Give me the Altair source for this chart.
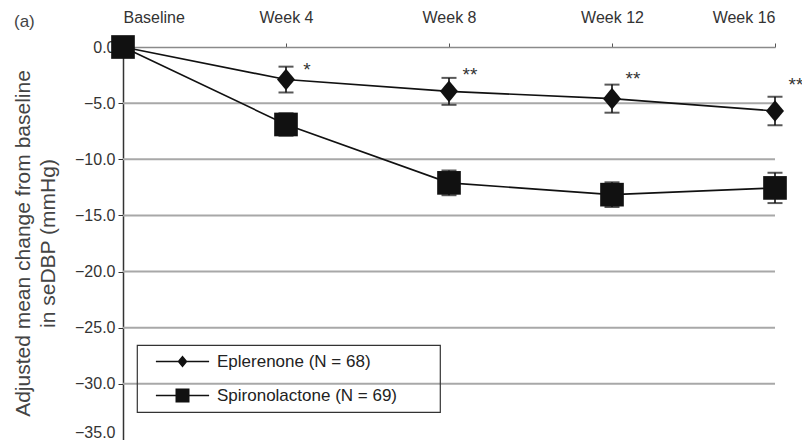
import altair as alt
import pandas as pd

# ---- data ----
weeks = [0, 4, 8, 12, 16]
week_labels = ["Baseline", "Week 4", "Week 8", "Week 12", "Week 16"]
series_names = ["Eplerenone (N = 68)", "Spironolactone (N = 69)"]
eplerenone_mean = [0.0, -2.9, -3.95, -4.6, -5.7]
eplerenone_err = [0.0, 1.15, 1.2, 1.25, 1.27]
spiro_mean = [0.0, -6.9, -12.1, -13.15, -12.55]
spiro_err = [0.0, 1.0, 1.1, 1.1, 1.35]
star_weeks = [4, 8, 12, 16]
star_text = ["*", "**", "**", "**"]
star_y = [-1.75, -2.2, -2.6, -3.1]
grid_vals = [-5, -10, -15, -20, -25, -30]
y_ticks = [0, -5, -10, -15, -20, -25, -30, -35]

FONT = "Liberation Sans"
INK = "#111111"

rows = []
for name, means, errs in [(series_names[0], eplerenone_mean, eplerenone_err),
                          (series_names[1], spiro_mean, spiro_err)]:
    for w, m, e in zip(weeks, means, errs):
        rows.append({"series": name, "week": w, "mean": m, "lo": m - e, "hi": m + e, "err": e})
df = pd.DataFrame(rows)
err_df = df[df["err"] > 0]
caps = pd.concat([
    err_df.assign(cap=err_df["lo"]),
    err_df.assign(cap=err_df["hi"]),
])
stars = pd.DataFrame({"week": star_weeks, "y": star_y, "t": star_text})
grid = pd.DataFrame({"v": grid_vals, "x0": [weeks[0]] * len(grid_vals), "x1": [weeks[-1]] * len(grid_vals)})

label_expr = "[" + ",".join(f"'{l}'" for l in week_labels) + "][indexof([" + ",".join(str(w) for w in weeks) + "], datum.value)]"

x_scale = alt.Scale(domain=[weeks[0], weeks[-1]], nice=False, zero=False)
y_scale = alt.Scale(domain=[-35, 0], nice=False)
x_axis = alt.Axis(orient="top", values=weeks, labelExpr=label_expr, title=None, grid=False,
                  domainColor="#8a8a8a", domainWidth=1.5, tickColor="#555", tickSize=4, tickWidth=1,
                  labelFont=FONT, labelFontSize=16, labelColor="#333", labelPadding=18)
y_axis = alt.Axis(values=y_ticks, format=".1f", grid=False,
                  title=["Adjusted mean change from baseline", "in seDBP (mmHg)"],
                  titleFont=FONT, titleFontSize=21, titleFontWeight="normal", titleColor="#444",
                  titleLineHeight=25, titleX=-100, titleY=196, titleAngle=270,
                  titleAlign="center", titleBaseline="middle",
                  domainColor="#333", domainWidth=1.5, tickColor="#333", tickSize=5, tickWidth=1,
                  labelFont=FONT, labelFontSize=16, labelColor="#333", labelPadding=3,
                  labelBaseline={"condition": {"test": "datum.value <= -35", "value": "bottom"},
                                 "value": "middle"})


def X(field):
    return alt.X(field, type="quantitative", scale=x_scale, axis=x_axis)


def Y(field):
    return alt.Y(field, type="quantitative", scale=y_scale, axis=y_axis)


grid_layer = alt.Chart(grid).mark_rule(color="#a8a8a8", strokeWidth=2).encode(
    x=X("x0"), x2="x1", y=Y("v"))

lines = alt.Chart(df).mark_line(color=INK, strokeWidth=1.6).encode(
    x=X("week"), y=Y("mean"), detail="series:N")

err_rules = alt.Chart(err_df).mark_rule(color=INK, strokeWidth=1.6).encode(
    x=X("week"), y=Y("lo"), y2="hi")

cap_ticks = alt.Chart(caps).mark_tick(color=INK, orient="horizontal", size=15, thickness=2).encode(
    x=X("week"), y=Y("cap"))

diamond_path = "M0,-1.2L1,0L0,1.2L-1,0Z"
diamonds = alt.Chart(df[df["series"] == series_names[0]]).mark_point(
    filled=True, color=INK, opacity=1, shape=diamond_path, size=324).encode(
    x=X("week"), y=Y("mean"))

squares = alt.Chart(df[df["series"] == series_names[1]]).mark_point(
    filled=True, color=INK, opacity=1, shape="square", size=560).encode(
    x=X("week"), y=Y("mean"))

# legend symbols: a thin bar (the line) plus the marker, all as filled path
leg_diamond = ("M-3.8,-0.1L3.8,-0.1L3.8,0.1L-3.8,0.1Z"
               "M0,-0.86L0.71,0L0,0.86L-0.71,0Z")
leg_square = ("M-3.8,-0.1L3.8,-0.1L3.8,0.1L-3.8,0.1Z"
              "M-1,-1L1,-1L1,1L-1,1Z")
legend_layer = alt.Chart(df).mark_point(filled=True, color=INK, opacity=0, size=10).encode(
    x=X("week"), y=Y("mean"),
    shape=alt.Shape("series:N",
                    scale=alt.Scale(domain=series_names, range=[leg_diamond, leg_square]),
                    legend=alt.Legend(orient="none", legendX=14, legendY=298,
                                      # invisible spacer title on the right widens the box
                                      title="MM", titleOrient="right", titleOpacity=0,
                                      titleFontSize=18, titlePadding=5,
                                      strokeColor="#333", padding=8, symbolSize=196,
                                      symbolFillColor=INK, symbolStrokeColor=INK,
                                      symbolStrokeWidth=0, symbolOpacity=1,
                                      labelFont=FONT, labelFontSize=17, labelColor="#222",
                                      labelLimit=400, labelOffset=26, rowPadding=16,
                                      symbolOffset=29)))

star_layer = alt.Chart(stars).mark_text(font=FONT, fontSize=19, color="#333", dx=21, dy=9,
                                        baseline="alphabetic", align="center").encode(
    x=X("week"), y=Y("y"), text="t:N")

chart = alt.layer(grid_layer, lines, err_rules, cap_ticks, diamonds, squares, legend_layer, star_layer).properties(
    width=652, height=393,
    autosize=alt.AutoSizeParams(type="none"),
    padding={"left": 115, "top": 39, "right": 27, "bottom": 0},
    title=alt.TitleParams("(a)", anchor="start", font=FONT, fontSize=17, fontWeight="normal",
                          color="#444", dx=2, dy=26),
).configure_view(stroke=None).configure_legend(strokeWidth=1.2)

chart.save("out.html", embed_options={"renderer": "svg", "actions": False})
